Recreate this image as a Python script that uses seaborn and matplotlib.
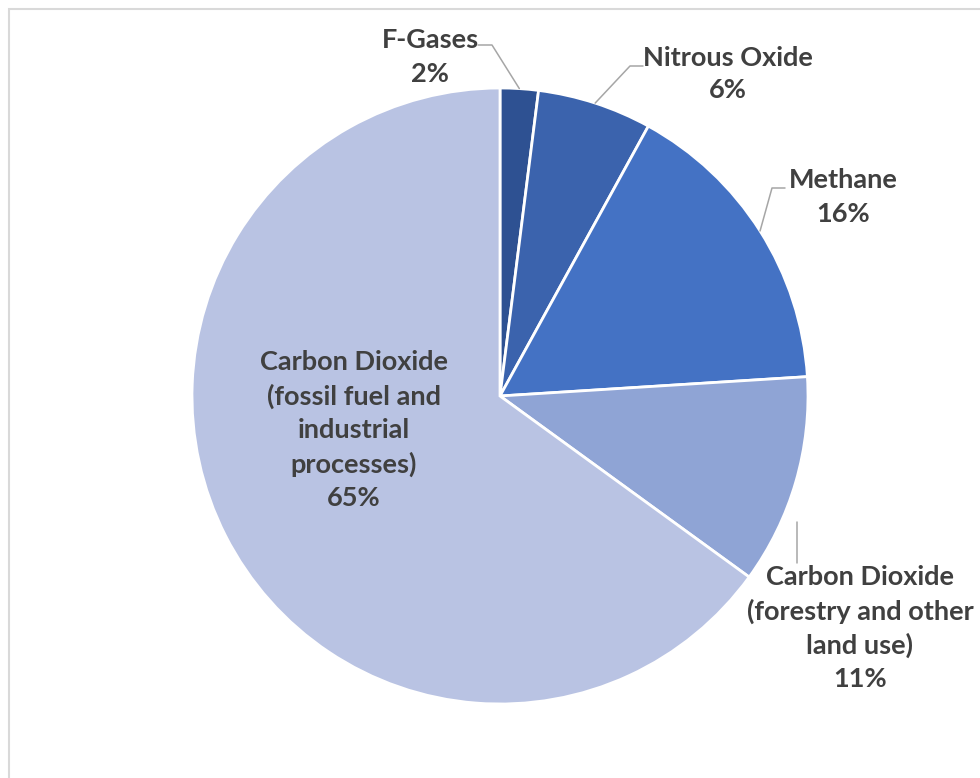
import numpy as np
import matplotlib.pyplot as plt
import seaborn as sns
from matplotlib.patches import Rectangle

# greenhouse gas shares, clockwise from 12 o'clock
labels = ['F-Gases', 'Nitrous Oxide', 'Methane',
          'Carbon Dioxide\n(forestry and other\nland use)',
          'Carbon Dioxide\n(fossil fuel and\nindustrial\nprocesses)']
shares = [2, 6, 16, 11, 65]
colors = ['#2E5192', '#3B63AD', '#4472C4', '#8FA4D5', '#B9C3E3']

sns.set_theme(style='white')
plt.rcParams['font.family'] = ['Lato', 'DejaVu Sans']

W, H = 980, 778
cx, cy, R = 500, 396, 308  # pie centre and radius in pixels

fig = plt.figure(figsize=(W / 100, H / 100), dpi=100)
ax = fig.add_axes([0, 0, 1, 1])

wedges, _ = ax.pie(shares, colors=colors, startangle=90, counterclock=False,
                   wedgeprops=dict(edgecolor='white', linewidth=2))
ax.set_xlim(-cx / R, (W - cx) / R)
ax.set_ylim(-(H - cy) / R, cy / R)
ax.axis('off')


def px(x, y):
    # pixel position -> data coords
    return (x - cx) / R, (cy - y) / R


# label centres and leader elbows in pixels (layout only)
label_pos = [(430, 57), (728, 74), (843, 197), (860, 628), (354, 430)]
elbows = [[(478, 45), (492, 45)], [(643, 66), (630, 66)],
          [(785, 188), (772, 188)], [(797, 563), (797, 563)], None]
starts = [None, None, None, (797, 522), None]

txt = dict(ha='center', va='center', fontsize=19.5, fontweight='bold',
           color='#404040', linespacing=1.45)
cum = np.cumsum([0] + shares)
for i, (lab, s) in enumerate(zip(labels, shares)):
    ax.text(*px(*label_pos[i]), f'{lab}\n{s}%', **txt)
    if elbows[i] is None:
        continue
    if starts[i] is None:
        mid = 90 - 360 * (cum[i] + cum[i + 1]) / 2 / 100
        edge = (np.cos(np.radians(mid)), np.sin(np.radians(mid)))
    else:
        edge = px(*starts[i])
    pts = [px(*p) for p in elbows[i]] + [edge]
    ax.plot([p[0] for p in pts], [p[1] for p in pts], color='#A6A6A6', lw=1.1)

fig.patches.append(Rectangle((9 / W, -0.1), 1.2, (H - 9) / H + 0.1,
                             transform=fig.transFigure, fill=False,
                             edgecolor='#D9D9D9', lw=1.5))
fig.savefig('out.png', dpi=100)
